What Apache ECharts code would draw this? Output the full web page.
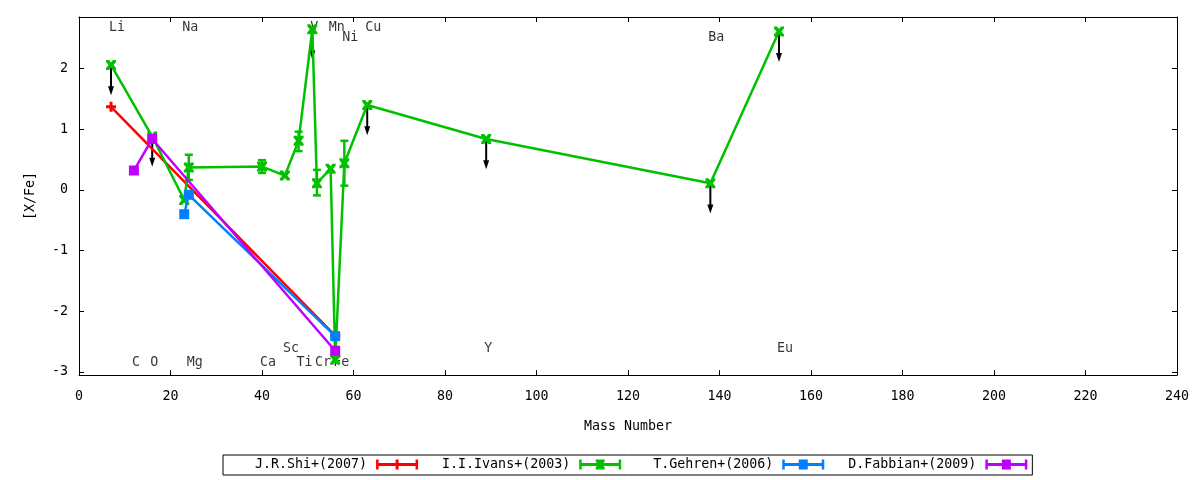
<!DOCTYPE html>
<html>
<head>
<meta charset="utf-8">
<script src="https://cdn.jsdelivr.net/npm/echarts@6/dist/echarts.min.js"></script>
<style>
html,body{margin:0;padding:0;background:#fff;}
#chart{width:1200px;height:480px;}
</style>
</head>
<body>
<div id="chart"></div>
<script>
// ---- data ----
const xTicks = [0, 20, 40, 60, 80, 100, 120, 140, 160, 180, 200, 220, 240];
const yTicks = [-3, -2, -1, 0, 1, 2];

const shiX = [7, 56];
const shiY = [1.37, -2.40];

const ivansX = [7, 16, 23, 24, 40, 45, 48, 51, 52, 55, 56, 58, 63, 89, 138, 153];
const ivansY = [2.06, 0.88, -0.165, 0.37, 0.385, 0.236, 0.81, 2.65, 0.11, 0.35, -2.80, 0.44, 1.40, 0.84, 0.11, 2.61];
const ivansErrLo = [null, null, null, 0.165, 0.28, null, 0.64, null, -0.09, null, null, 0.07, null, null, null, null];
const ivansErrHi = [null, null, null, 0.58, 0.49, null, 0.96, null, 0.33, null, null, 0.81, null, null, null, null];
const ivansUpperLimit = [true, true, false, false, false, false, false, true, false, false, false, false, true, true, true, true];
const limitArrowLength = 0.5;

const gehrenX = [23, 24, 56];
const gehrenY = [-0.40, -0.08, -2.41];

const fabbianX = [12, 16, 56];
const fabbianY = [0.32, 0.84, -2.65];

const elemNames  = ['Li', 'Na', 'V', 'Mn', 'Ni', 'Cu', 'Ba', 'C', 'O', 'Mg', 'Ca', 'Sc', 'Ti', 'Cr', 'Fe', 'Y', 'Eu'];
const elemMass   = [7, 23, 51, 55, 58, 63, 138, 12, 16, 24, 40, 45, 48, 52, 56, 89, 153];
const elemLabelY = [2.68, 2.68, 2.68, 2.68, 2.51, 2.68, 2.51, -2.85, -2.85, -2.85, -2.85, -2.62, -2.85, -2.85, -2.85, -2.62, -2.62];

const seriesNames = ['J.R.Shi+(2007)', 'I.I.Ivans+(2003)', 'T.Gehren+(2006)', 'D.Fabbian+(2009)'];
const colors = ['#ff0000', '#00c000', '#0080ff', '#c000ff'];

// ---- helpers ----
const zip = (xs, ys) => xs.map((x, i) => [x, ys[i]]);
const FONT = 'DejaVu Sans Mono';
const FS = 13.3;

const plusPath = 'path://M3.5,0H6.5V3.5H10V6.5H6.5V10H3.5V6.5H0V3.5H3.5Z';
const crossPath = 'path://M0,0H3L5,2.5L7,0H10V2L7.5,5L10,8V10H7L5,7.5L3,10H0V8L2.5,5L0,2Z';
const capsLine = 'M0,3.6H42V6.4H0Z M0,0H2.5V10H0Z M39.5,0H42V10H39.5Z ';
const legendIcons = [
  'path://' + capsLine + 'M19.5,0H22.5V10H19.5Z',
  'path://' + capsLine + 'M16.5,0H25.5V2L23,5L25.5,8V10H16.5V8L19,5L16.5,2Z',
  'path://' + capsLine + 'M16.5,0H25.5V10H16.5Z',
  'path://' + capsLine + 'M16.5,0H25.5V10H16.5Z'
];

const errData = [];
ivansX.forEach((x, i) => { if (ivansErrLo[i] !== null) errData.push([x, ivansErrLo[i], ivansErrHi[i]]); });
const arrowData = [];
ivansX.forEach((x, i) => { if (ivansUpperLimit[i]) arrowData.push([x, ivansY[i], ivansY[i] - limitArrowLength]); });

const chart = echarts.init(document.getElementById('chart'), null, {renderer: 'canvas'});

const axisLineStyle = {color: '#000', width: 1};
const option = {
  backgroundColor: '#fff',
  animation: false,
  textStyle: {fontFamily: FONT, color: '#000'},
  grid: {left: 79, right: 23, top: 17, bottom: 105},
  legend: {
    data: seriesNames.map((n, i) => ({name: n, icon: legendIcons[i]})),
    left: 223,
    top: 455,
    align: 'right',
    itemWidth: 42,
    itemHeight: 10,
    itemGap: 24,
    padding: [3, 5, 4, 16],
    borderColor: '#000',
    borderWidth: 1,
    borderRadius: 0,
    formatter: n => n.padStart(16, ' '),
    textStyle: {fontFamily: FONT, fontSize: FS, color: '#000', padding: [0, 4, 0, 0]}
  },
  xAxis: [{
    type: 'value', min: 0, max: 240, interval: 20, position: 'bottom',
    name: 'Mass Number', nameLocation: 'middle', nameGap: 45,
    nameTextStyle: {fontFamily: FONT, fontSize: FS, color: '#000'},
    axisLine: {show: true, onZero: false, lineStyle: axisLineStyle},
    axisTick: {show: true, inside: true, length: 5, lineStyle: axisLineStyle, customValues: xTicks},
    axisLabel: {show: true, margin: 15, fontFamily: FONT, fontSize: FS, color: '#000', customValues: xTicks},
    splitLine: {show: false}
  }, {
    type: 'value', min: 0, max: 240, interval: 20, position: 'top',
    axisLine: {show: true, onZero: false, lineStyle: axisLineStyle},
    axisTick: {show: true, inside: true, length: 5, lineStyle: axisLineStyle, customValues: xTicks},
    axisLabel: {show: false},
    splitLine: {show: false}
  }],
  yAxis: [{
    type: 'value', min: -3.05, max: 2.85, position: 'left',
    name: '[X/Fe]', nameLocation: 'middle', nameGap: 42, nameRotate: 90,
    nameTextStyle: {fontFamily: FONT, fontSize: FS, color: '#000'},
    axisLine: {show: true, onZero: false, lineStyle: axisLineStyle},
    axisTick: {show: true, inside: true, length: 5, lineStyle: axisLineStyle, customValues: yTicks},
    axisLabel: {show: true, margin: 11, fontFamily: FONT, fontSize: FS, color: '#000', customValues: yTicks},
    splitLine: {show: false}
  }, {
    type: 'value', min: -3.05, max: 2.85, position: 'right',
    axisLine: {show: true, onZero: false, lineStyle: axisLineStyle},
    axisTick: {show: true, inside: true, length: 5, lineStyle: axisLineStyle, customValues: yTicks},
    axisLabel: {show: false},
    splitLine: {show: false}
  }],
  series: [
    {
      name: 'elements', type: 'scatter', z: 1, silent: true,
      symbolSize: 1, itemStyle: {color: 'rgba(0,0,0,0)'},
      data: elemMass.map((m, i) => ({name: elemNames[i], value: [m, elemLabelY[i]]})),
      label: {show: true, formatter: '{b}', position: 'inside', align: 'left', verticalAlign: 'middle',
              offset: [-2, 0], fontFamily: FONT, fontSize: FS, color: '#000'}
    },
    {
      name: 'limits', type: 'custom', z: 2, silent: true,
      data: arrowData,
      renderItem: (params, api) => {
        const p1 = api.coord([api.value(0), api.value(1)]);
        const p2 = api.coord([api.value(0), api.value(2)]);
        return {type: 'group', children: [
          {type: 'line', shape: {x1: p1[0], y1: p1[1], x2: p2[0], y2: p2[1] - 6}, style: {stroke: '#000', lineWidth: 2}},
          {type: 'polygon', shape: {points: [[p2[0] - 3, p2[1] - 9], [p2[0] + 3, p2[1] - 9], [p2[0], p2[1]]]}, style: {fill: '#000'}}
        ]};
      }
    },
    {
      name: seriesNames[0], type: 'line', z: 3, data: zip(shiX, shiY),
      color: colors[0], lineStyle: {width: 2.5, color: colors[0]},
      symbol: plusPath, symbolSize: 10, itemStyle: {color: colors[0]}
    },
    {
      name: 'ivansErr', type: 'custom', z: 4, silent: true, data: errData,
      renderItem: (params, api) => {
        const x = api.value(0);
        const lo = api.coord([x, api.value(1)]);
        const hi = api.coord([x, api.value(2)]);
        const st = {stroke: colors[1], lineWidth: 2.5};
        return {type: 'group', children: [
          {type: 'line', shape: {x1: lo[0], y1: lo[1], x2: hi[0], y2: hi[1]}, style: st},
          {type: 'line', shape: {x1: lo[0] - 4, y1: lo[1], x2: lo[0] + 4, y2: lo[1]}, style: st},
          {type: 'line', shape: {x1: hi[0] - 4, y1: hi[1], x2: hi[0] + 4, y2: hi[1]}, style: st}
        ]};
      }
    },
    {
      name: seriesNames[1], type: 'line', z: 4, data: zip(ivansX, ivansY),
      color: colors[1], lineStyle: {width: 2.5, color: colors[1]},
      symbol: crossPath, symbolSize: 10, itemStyle: {color: colors[1]}
    },
    {
      name: seriesNames[2], type: 'line', z: 5, data: zip(gehrenX, gehrenY),
      color: colors[2], lineStyle: {width: 2.5, color: colors[2]},
      symbol: 'rect', symbolSize: 10, itemStyle: {color: colors[2]}
    },
    {
      name: seriesNames[3], type: 'line', z: 6, data: zip(fabbianX, fabbianY),
      color: colors[3], lineStyle: {width: 2.5, color: colors[3]},
      symbol: 'rect', symbolSize: 10, itemStyle: {color: colors[3]}
    }
  ]
};
chart.setOption(option);
</script>
</body>
</html>
